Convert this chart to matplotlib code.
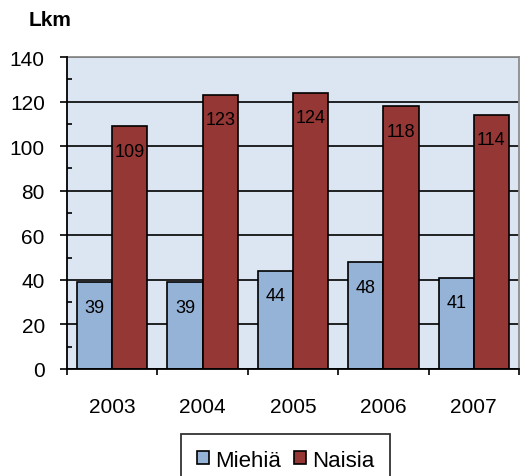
import matplotlib
matplotlib.use("Agg")
import matplotlib.pyplot as plt
import numpy as np
from matplotlib.patches import Patch

years = ["2003", "2004", "2005", "2006", "2007"]
miehia = [39, 39, 44, 48, 41]
naisia = [109, 123, 124, 118, 114]
series_names = ["Miehiä", "Naisia"]
yticks = [0, 20, 40, 60, 80, 100, 120, 140]

plt.rcParams['font.family'] = ['Liberation Sans', 'DejaVu Sans']

fig = plt.figure(figsize=(5.2, 4.77), dpi=100)
ax = fig.add_axes([67/520, 1-370/477, (519-67)/520, (370-58)/477])
ax.set_facecolor('#dce6f2')

x = np.arange(len(years))
w = 0.39
blue = '#95b3d7'
red = '#953735'
b1 = ax.bar(x - w/2, miehia, width=w, color=blue, edgecolor='black', linewidth=1.2, zorder=3)
b2 = ax.bar(x + w/2, naisia, width=w, color=red, edgecolor='black', linewidth=1.2, zorder=3)

for bars, vals in ((b1, miehia), (b2, naisia)):
    for r, v in zip(bars, vals):
        ax.annotate(str(v), (r.get_x() + r.get_width()/2, v), xytext=(0, -18),
                    textcoords='offset points', ha='center', va='center',
                    fontsize=13, color='black', zorder=4)

ax.set_xlim(-0.5, len(years) - 0.5)
ax.set_ylim(0, 140)
ax.set_yticks(yticks)
ax.set_yticks(np.arange(10, 140, 20), minor=True)
ax.tick_params(axis='y', which='major', direction='out', length=5, width=1.2, pad=11, labelsize=15)
ax.tick_params(axis='y', which='minor', direction='in', length=3.5, width=1.2)
ax.set_xticks(np.arange(len(years) + 1) - 0.5)
ax.set_xticklabels([])
ax.set_xticks(x, minor=True)
ax.set_xticklabels(years, minor=True)
ax.tick_params(axis='x', which='major', direction='out', length=4, width=1.2)
ax.tick_params(axis='x', which='minor', length=0, pad=20, labelsize=15)

ax.grid(axis='y', which='major', color='black', linewidth=1.2, zorder=1)
ax.set_axisbelow(True)
for s in ('left', 'bottom'):
    ax.spines[s].set_color('black')
    ax.spines[s].set_linewidth(1.3)
    ax.spines[s].set_zorder(5)
for s in ('top', 'right'):
    ax.spines[s].set_color('#8c8c8c')
    ax.spines[s].set_linewidth(1.3)

fig.text(29/520, 1-21/477, "Lkm", fontsize=15, fontweight='bold', ha='left', va='center')

handles = [Patch(facecolor=blue, edgecolor='black', linewidth=1.2),
           Patch(facecolor=red, edgecolor='black', linewidth=1.2)]
leg = fig.legend(handles, series_names, loc='upper left', bbox_to_anchor=(181/520, 1-435/477),
                 ncol=2, fontsize=16, frameon=True, fancybox=False, shadow=False,
                 handlelength=0.55, handleheight=0.55, handletextpad=0.3, columnspacing=0.55,
                 borderpad=0.7, borderaxespad=0)
leg.get_frame().set_edgecolor('black')
leg.get_frame().set_linewidth(1.3)

fig.savefig("out.png", dpi=100)
